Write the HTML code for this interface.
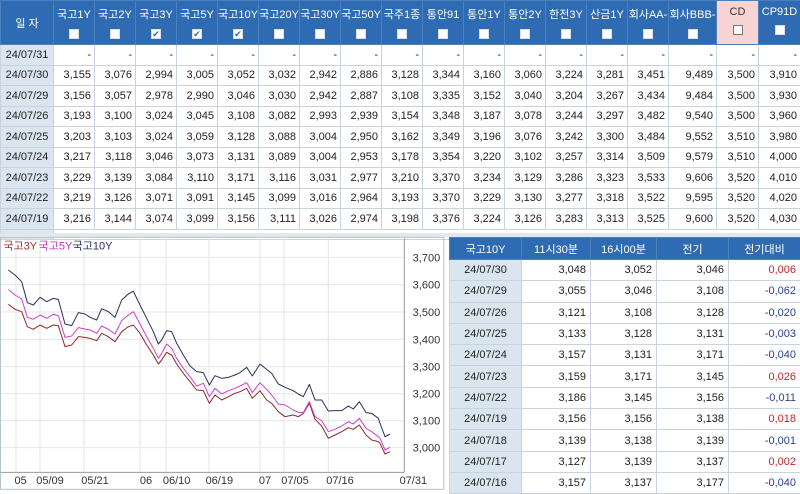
<!DOCTYPE html>
<html><head><meta charset="utf-8"><style>
*{margin:0;padding:0;box-sizing:border-box}
body{width:800px;height:490px;overflow:hidden;background:#fff;font-family:"Liberation Sans","Noto Sans CJK KR",sans-serif;font-size:11px;color:#222;position:relative}
table{border-collapse:collapse;table-layout:fixed;position:absolute}
td,th{border:1px solid #c9d3de;white-space:nowrap;overflow:hidden}
#t1{left:0;top:0;width:800px}
#t1 th{background:#2f6bb3;color:#fff;font-weight:normal;height:44px;border-color:#4b80c0;vertical-align:top;padding-top:5px;font-size:11px}
#t1 th .cb{display:block;margin:7px auto 0;width:10px;height:10px;background:#fff;border:1px solid #ddd;font-size:9px;line-height:9px;color:#2f6bb3}
#t1 th.cd{background:#f9d4d4;color:#333}
#t1 th.cd .cb{background:#fff;border:1px solid #777}
#t1 td{height:20.5px;text-align:right;padding-right:3px;font-size:11px}
#t1 td.d,#t2 td.d{background:#dbe5f0;text-align:center;padding:0}
#t2{left:449px;top:237px;width:351px}
#t2 th{background:#2f6bb3;color:#fff;font-weight:normal;height:22px;border-color:#4b80c0;font-size:11px}
#t2 td{height:21.3px;text-align:right;padding-right:4px}
.r{color:#c0262c}.b{color:#2b3f8f}
</style></head><body>
<table id="t1">
<colgroup><col style="width:53px"><col span="15" style="width:41px"><col style="width:48px"><col style="width:42px"><col style="width:42px"></colgroup>
<tr><th style="vertical-align:middle;padding:0">일 자</th><th>국고1Y<span class="cb"></span></th><th>국고2Y<span class="cb"></span></th><th>국고3Y<span class="cb">✔</span></th><th>국고5Y<span class="cb">✔</span></th><th>국고10Y<span class="cb">✔</span></th><th>국고20Y<span class="cb"></span></th><th>국고30Y<span class="cb"></span></th><th>국고50Y<span class="cb"></span></th><th>국주1종<span class="cb"></span></th><th>통안91<span class="cb"></span></th><th>통안1Y<span class="cb"></span></th><th>통안2Y<span class="cb"></span></th><th>한전3Y<span class="cb"></span></th><th>산금1Y<span class="cb"></span></th><th>회사AA-<span class="cb"></span></th><th>회사BBB-<span class="cb"></span></th><th class="cd">CD<span class="cb"></span></th><th>CP91D<span class="cb"></span></th></tr>
<tr><td class="d">24/07/31</td><td>-</td><td>-</td><td>-</td><td>-</td><td>-</td><td>-</td><td>-</td><td>-</td><td>-</td><td>-</td><td>-</td><td>-</td><td>-</td><td>-</td><td>-</td><td>-</td><td>-</td><td>-</td></tr>
<tr><td class="d">24/07/30</td><td>3,155</td><td>3,076</td><td>2,994</td><td>3,005</td><td>3,052</td><td>3,032</td><td>2,942</td><td>2,886</td><td>3,128</td><td>3,344</td><td>3,160</td><td>3,060</td><td>3,224</td><td>3,281</td><td>3,451</td><td>9,489</td><td>3,500</td><td>3,910</td></tr>
<tr><td class="d">24/07/29</td><td>3,156</td><td>3,057</td><td>2,978</td><td>2,990</td><td>3,046</td><td>3,030</td><td>2,942</td><td>2,887</td><td>3,108</td><td>3,335</td><td>3,152</td><td>3,040</td><td>3,204</td><td>3,267</td><td>3,434</td><td>9,484</td><td>3,500</td><td>3,930</td></tr>
<tr><td class="d">24/07/26</td><td>3,193</td><td>3,100</td><td>3,024</td><td>3,045</td><td>3,108</td><td>3,082</td><td>2,993</td><td>2,939</td><td>3,154</td><td>3,348</td><td>3,187</td><td>3,078</td><td>3,244</td><td>3,297</td><td>3,482</td><td>9,540</td><td>3,500</td><td>3,960</td></tr>
<tr><td class="d">24/07/25</td><td>3,203</td><td>3,103</td><td>3,024</td><td>3,059</td><td>3,128</td><td>3,088</td><td>3,004</td><td>2,950</td><td>3,162</td><td>3,349</td><td>3,196</td><td>3,076</td><td>3,242</td><td>3,300</td><td>3,484</td><td>9,552</td><td>3,510</td><td>3,980</td></tr>
<tr><td class="d">24/07/24</td><td>3,217</td><td>3,118</td><td>3,046</td><td>3,073</td><td>3,131</td><td>3,089</td><td>3,004</td><td>2,953</td><td>3,178</td><td>3,354</td><td>3,220</td><td>3,102</td><td>3,257</td><td>3,314</td><td>3,509</td><td>9,579</td><td>3,510</td><td>4,000</td></tr>
<tr><td class="d">24/07/23</td><td>3,229</td><td>3,139</td><td>3,084</td><td>3,110</td><td>3,171</td><td>3,116</td><td>3,031</td><td>2,977</td><td>3,210</td><td>3,370</td><td>3,234</td><td>3,129</td><td>3,286</td><td>3,323</td><td>3,533</td><td>9,606</td><td>3,520</td><td>4,010</td></tr>
<tr><td class="d">24/07/22</td><td>3,219</td><td>3,126</td><td>3,071</td><td>3,091</td><td>3,145</td><td>3,099</td><td>3,016</td><td>2,964</td><td>3,193</td><td>3,370</td><td>3,229</td><td>3,130</td><td>3,277</td><td>3,318</td><td>3,522</td><td>9,595</td><td>3,520</td><td>4,020</td></tr>
<tr><td class="d">24/07/19</td><td>3,216</td><td>3,144</td><td>3,074</td><td>3,099</td><td>3,156</td><td>3,111</td><td>3,026</td><td>2,974</td><td>3,198</td><td>3,376</td><td>3,224</td><td>3,126</td><td>3,283</td><td>3,313</td><td>3,525</td><td>9,600</td><td>3,520</td><td>4,030</td></tr>
<tr><td class="d" style="height:10px"></td><td colspan="18" style="height:10px"></td></tr>
</table>
<div style="position:absolute;left:0;top:233px;width:800px;height:4px;background:#e4e8ec"></div>
<svg style="position:absolute;left:0;top:230px" width="450" height="260" viewBox="0 0 1350 780">
<g stroke="#e6e6e6" stroke-width="3">
<line x1="48" y1="25" x2="48" y2="725"/><line x1="120" y1="25" x2="120" y2="725"/><line x1="252" y1="25" x2="252" y2="725"/><line x1="420" y1="25" x2="420" y2="725"/><line x1="498" y1="25" x2="498" y2="725"/><line x1="627" y1="25" x2="627" y2="725"/><line x1="780" y1="25" x2="780" y2="725"/><line x1="852" y1="25" x2="852" y2="725"/><line x1="985" y1="25" x2="985" y2="725"/>
<line x1="0" y1="82" x2="1213" y2="82"/><line x1="0" y1="164" x2="1213" y2="164"/><line x1="0" y1="246" x2="1213" y2="246"/><line x1="0" y1="328" x2="1213" y2="328"/><line x1="0" y1="410" x2="1213" y2="410"/><line x1="0" y1="491" x2="1213" y2="491"/><line x1="0" y1="572" x2="1213" y2="572"/><line x1="0" y1="653" x2="1213" y2="653"/>
</g>
<line x1="1213" y1="25" x2="1213" y2="727" stroke="#999" stroke-width="3"/>
<line x1="0" y1="727" x2="1213" y2="727" stroke="#999" stroke-width="3"/>
<rect x="1.5" y="22" width="1330" height="756" fill="none" stroke="#b8c2cc" stroke-width="3"/>
<g fill="none" stroke-width="3" stroke-linejoin="round">
<polyline stroke="#8a2a2a" points="25,223 45,238 65,245 82,290 100,298 120,285 140,295 160,285 175,287 195,350 215,345 235,320 255,322 270,325 290,332 305,310 325,320 345,335 365,305 385,290 400,285 420,310 440,345 460,375 475,402 485,390 500,367 515,375 530,402 550,430 570,455 590,480 610,482 628,520 645,495 665,510 685,500 705,490 720,485 740,475 757,505 780,482 800,510 815,520 835,545 855,560 880,555 895,560 910,550 928,520 945,568 965,588 985,625 1005,615 1025,605 1045,593 1060,598 1078,585 1098,615 1115,630 1135,635 1140,640 1155,672 1170,665"/>
<polyline stroke="#d040c8" points="25,178 45,195 65,207 82,262 100,268 120,255 140,265 160,253 175,257 195,322 215,318 235,293 255,297 270,300 290,310 305,288 325,298 345,312 365,272 385,255 400,245 420,282 440,320 460,355 475,385 485,370 500,342 515,355 530,385 550,415 570,440 590,468 610,460 628,500 645,475 665,492 685,482 705,475 720,468 740,458 757,488 780,458 800,478 815,495 835,522 855,525 880,540 895,547 910,548 928,515 945,560 965,572 985,605 1005,598 1025,588 1045,575 1060,582 1078,565 1098,595 1115,605 1135,620 1140,625 1155,660 1170,652"/>
<polyline stroke="#2a2f5a" points="25,120 45,135 65,155 82,218 100,225 120,202 140,215 160,205 175,208 195,282 215,287 235,248 255,252 270,262 290,270 305,236 325,245 345,262 365,210 385,192 400,184 420,225 440,265 460,305 475,342 485,330 500,302 515,305 530,340 550,375 570,408 590,425 610,428 628,465 645,437 665,445 685,442 705,435 720,428 740,412 757,438 780,402 800,418 815,430 835,462 855,472 880,482 895,492 910,500 928,463 945,510 965,510 985,543 1005,542 1025,542 1045,528 1060,537 1078,515 1098,548 1115,550 1135,565 1140,580 1155,620 1170,612"/>
</g>
<g font-size="33" fill="#333" font-family="Liberation Sans,Noto Sans CJK KR,sans-serif">
<text x="10" y="58" fill="#a0302a">국고3Y</text><text x="116" y="58" fill="#c030c0">국고5Y</text><text x="218" y="58" fill="#2a2f5a">국고10Y</text>
<g text-anchor="start"><text x="1238" y="94">3,700</text><text x="1238" y="176">3,600</text><text x="1238" y="258">3,500</text><text x="1238" y="340">3,400</text><text x="1238" y="422">3,300</text><text x="1238" y="503">3,200</text><text x="1238" y="584">3,100</text><text x="1238" y="665">3,000</text></g>
<g text-anchor="middle"><text x="62" y="762">05</text><text x="150" y="762">05/09</text><text x="285" y="762">05/21</text><text x="438" y="762">06</text><text x="530" y="762">06/10</text><text x="658" y="762">06/19</text><text x="795" y="762">07</text><text x="885" y="762">07/05</text><text x="1020" y="762">07/16</text><text x="1240" y="762">07/31</text></g>
</g>
</svg>
<table id="t2">
<colgroup><col style="width:72px"><col style="width:69px"><col style="width:66px"><col style="width:72px"><col style="width:72px"></colgroup>
<tr><th>국고10Y</th><th>11시30분</th><th>16시00분</th><th>전기</th><th>전기대비</th></tr>
<tr><td class="d">24/07/30</td><td>3,048</td><td>3,052</td><td>3,046</td><td class="r">0,006</td></tr>
<tr><td class="d">24/07/29</td><td>3,055</td><td>3,046</td><td>3,108</td><td class="b">-0,062</td></tr>
<tr><td class="d">24/07/26</td><td>3,121</td><td>3,108</td><td>3,128</td><td class="b">-0,020</td></tr>
<tr><td class="d">24/07/25</td><td>3,133</td><td>3,128</td><td>3,131</td><td class="b">-0,003</td></tr>
<tr><td class="d">24/07/24</td><td>3,157</td><td>3,131</td><td>3,171</td><td class="b">-0,040</td></tr>
<tr><td class="d">24/07/23</td><td>3,159</td><td>3,171</td><td>3,145</td><td class="r">0,026</td></tr>
<tr><td class="d">24/07/22</td><td>3,186</td><td>3,145</td><td>3,156</td><td class="b">-0,011</td></tr>
<tr><td class="d">24/07/19</td><td>3,156</td><td>3,156</td><td>3,138</td><td class="r">0,018</td></tr>
<tr><td class="d">24/07/18</td><td>3,139</td><td>3,138</td><td>3,139</td><td class="b">-0,001</td></tr>
<tr><td class="d">24/07/17</td><td>3,127</td><td>3,139</td><td>3,137</td><td class="r">0,002</td></tr>
<tr><td class="d">24/07/16</td><td>3,157</td><td>3,137</td><td>3,177</td><td class="b">-0,040</td></tr>
</table>
</body></html>
